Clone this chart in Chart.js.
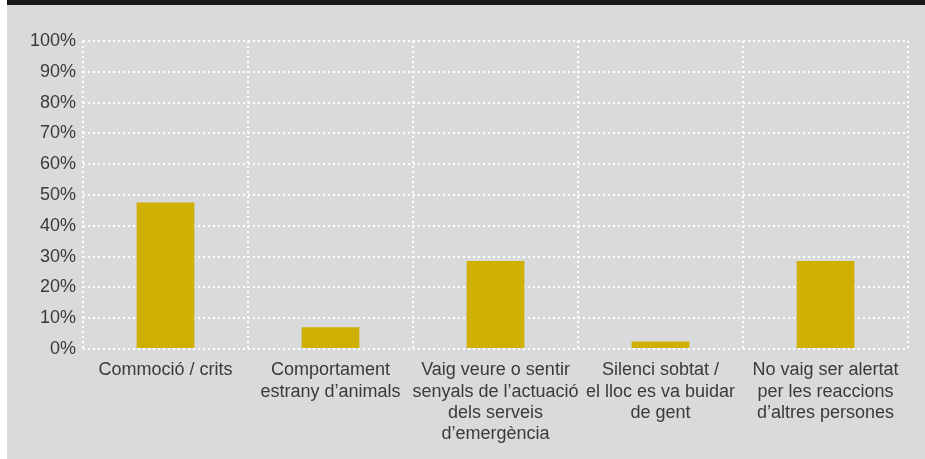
<!DOCTYPE html>
<html>
<head>
<meta charset="utf-8">
<script src="https://cdn.jsdelivr.net/npm/chart.js@4/dist/chart.umd.min.js"></script>
<style>
	html, body { margin: 0; padding: 0; background: #fff; }
	#frame {
		position: absolute; left: 7px; top: 0; width: 918px; height: 459px;
		background: #d9dadc; border-top: 5px solid #1b191c; box-sizing: border-box;
	}
	#wrap { position: absolute; left: 0; top: 0; width: 918px; height: 454px; }
</style>
</head>
<body>
<div id="frame"><div id="wrap"><canvas id="bars"></canvas></div></div>
<script>
	var categories = [
		["Commoció / crits"],
		["Comportament", "estrany d’animals"],
		["Vaig veure o sentir", "senyals de l’actuació", "dels serveis", "d’emergència"],
		["Silenci sobtat /", "el lloc es va buidar", "de gent"],
		["No vaig ser alertat", "per les reaccions", "d’altres persones"]
	];
	var percentages = [47.6, 7.1, 28.6, 2.4, 28.6];
	var yTicks = [0, 10, 20, 30, 40, 50, 60, 70, 80, 90, 100];

	var textColor = '#3a3a3a',
		// white dotted grid, no solid axis line
		dotted = { display : false, dash : [2, 3] },
		font = { family : "'Liberation Sans', Helvetica, Arial, sans-serif", size : 18, lineHeight : 1.17 };

	new Chart("bars", {
		type : 'bar',
		data : {
			labels : categories,
			datasets : [{
				data : percentages,
				backgroundColor : '#cfb000',
				barPercentage : 0.35,
				categoryPercentage : 1
			}]
		},
		options : {
			responsive : true,
			maintainAspectRatio : false,
			animation : false,
			layout : { padding : { top : 36, right : 17, left : 0, bottom : 0 } },
			plugins : {
				legend : { display : false },
				tooltip : { enabled : false }
			},
			scales : {
				x : {
					offset : true,
					grid : { offset : true, color : '#ffffff', lineWidth : 2, drawTicks : false },
					border : dotted,
					ticks : { color : textColor, font : font, padding : 11, maxRotation : 0, autoSkip : false },
					afterFit : function(scale){ scale.height = 110; }
				},
				y : {
					min : 0,
					max : 100,
					afterBuildTicks : function(scale){
						scale.ticks = yTicks.map(function(v){ return { value : v }; });
					},
					grid : { color : '#ffffff', lineWidth : 2, drawTicks : false },
					border : dotted,
					ticks : {
						color : textColor,
						font : font,
						padding : 7,
						callback : function(v){ return v + '%'; }
					},
					afterFit : function(scale){ scale.width = 76; }
				}
			}
		}
	});
</script>
</body>
</html>
